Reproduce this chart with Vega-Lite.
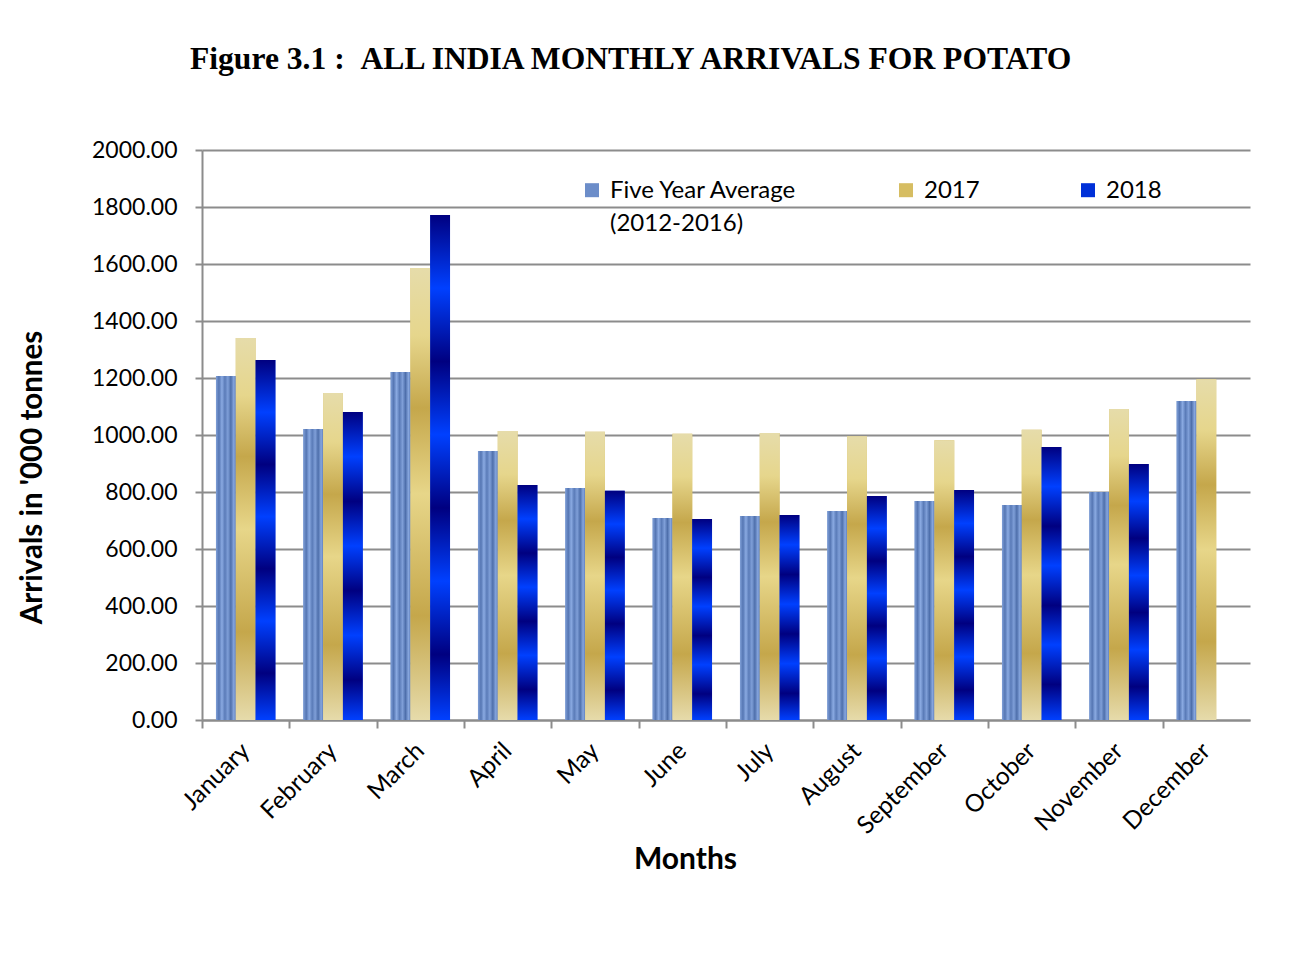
{
  "$schema": "https://vega.github.io/schema/vega-lite/v6.json",
  "width": 1048,
  "height": 570,
  "autosize": {"type": "none"},
  "padding": {"left": 202, "top": 150, "right": 53, "bottom": 235},
  "background": "white",
  "title": {
    "text": "Figure 3.1 :\u00a0\u00a0ALL INDIA MONTHLY ARRIVALS FOR POTATO",
    "font": "Liberation Serif",
    "fontSize": 31.6,
    "fontWeight": "bold",
    "color": "black",
    "anchor": "start",
    "frame": "group",
    "dx": -12,
    "offset": 63
  },
  "config": {
    "font": "Lato",
    "view": {"stroke": null},
    "style": {"guide-label": {"lineHeight": 33}},
    "axis": {"labelFont": "Lato", "titleFont": "Lato", "labelColor": "black", "titleColor": "black"}
  },
  "data": {
    "values": [
      {"month": "January", "series": "Five Year Average (2012-2016)", "value": 1207},
      {"month": "January", "series": "2017", "value": 1340},
      {"month": "January", "series": "2018", "value": 1263},
      {"month": "February", "series": "Five Year Average (2012-2016)", "value": 1021},
      {"month": "February", "series": "2017", "value": 1147},
      {"month": "February", "series": "2018", "value": 1081},
      {"month": "March", "series": "Five Year Average (2012-2016)", "value": 1221},
      {"month": "March", "series": "2017", "value": 1586},
      {"month": "March", "series": "2018", "value": 1772},
      {"month": "April", "series": "Five Year Average (2012-2016)", "value": 944},
      {"month": "April", "series": "2017", "value": 1014},
      {"month": "April", "series": "2018", "value": 825},
      {"month": "May", "series": "Five Year Average (2012-2016)", "value": 814},
      {"month": "May", "series": "2017", "value": 1011},
      {"month": "May", "series": "2018", "value": 804},
      {"month": "June", "series": "Five Year Average (2012-2016)", "value": 709},
      {"month": "June", "series": "2017", "value": 1004},
      {"month": "June", "series": "2018", "value": 705},
      {"month": "July", "series": "Five Year Average (2012-2016)", "value": 716},
      {"month": "July", "series": "2017", "value": 1007},
      {"month": "July", "series": "2018", "value": 719},
      {"month": "August", "series": "Five Year Average (2012-2016)", "value": 733},
      {"month": "August", "series": "2017", "value": 996},
      {"month": "August", "series": "2018", "value": 786},
      {"month": "September", "series": "Five Year Average (2012-2016)", "value": 768},
      {"month": "September", "series": "2017", "value": 982},
      {"month": "September", "series": "2018", "value": 807},
      {"month": "October", "series": "Five Year Average (2012-2016)", "value": 754},
      {"month": "October", "series": "2017", "value": 1018},
      {"month": "October", "series": "2018", "value": 958},
      {"month": "November", "series": "Five Year Average (2012-2016)", "value": 800},
      {"month": "November", "series": "2017", "value": 1091},
      {"month": "November", "series": "2018", "value": 898},
      {"month": "December", "series": "Five Year Average (2012-2016)", "value": 1119},
      {"month": "December", "series": "2017", "value": 1196}
    ]
  },
  "encoding": {
    "x": {
      "field": "month",
      "type": "nominal",
      "sort": ["January","February","March","April","May","June","July","August","September","October","November","December"],
      "scale": {"paddingInner": 0.32, "paddingOuter": 0.16},
      "axis": {
        "title": "Months",
        "titleFontSize": 30,
        "titleFontWeight": "bold",
        "titleX": 483,
        "titleY": 124,
        "labelFontSize": 24.5,
        "labelAngle": -45,
        "labelAlign": "right",
        "labelBaseline": "middle",
        "bandPosition": 0.5,
        "tickOffset": -43.67,
        "labelOffset": 43.67,
        "ticks": true,
        "tickSize": 8,
        "tickColor": "#8c8c8c",
        "tickWidth": 2,
        "domainColor": "#8c8c8c",
        "domainWidth": 2,
        "labelPadding": 19,
        "grid": false
      }
    },
    "xOffset": {
      "field": "series",
      "type": "nominal",
      "sort": ["Five Year Average (2012-2016)", "2017", "2018"],
      "scale": {"domain": ["Five Year Average (2012-2016)", "2017", "2018"], "paddingInner": 0, "paddingOuter": 0}
    },
    "y": {
      "field": "value",
      "type": "quantitative",
      "scale": {"domain": [0, 2000], "nice": false},
      "axis": {
        "title": "Arrivals in '000 tonnes",
        "titleFontSize": 29.5,
        "titleFontWeight": "bold",
        "titleY": 327,
        "titleX": -155,
        "values": [0,200,400,600,800,1000,1200,1400,1600,1800,2000],
        "format": ".2f",
        "labelFontSize": 23,
        "labelPadding": 18,
        "tickSize": 7,
        "tickColor": "#8c8c8c",
        "tickWidth": 2,
        "domainColor": "#8c8c8c",
        "domainWidth": 2,
        "gridColor": "#8c8c8c",
        "gridWidth": 2
      }
    }
  },
  "layer": [
    {
      "mark": {"type": "bar"},
      "encoding": {
        "color": {
          "field": "series",
          "type": "nominal",
          "scale": {"domain": ["Five Year Average (2012-2016)", "2017", "2018"], "range": ["#6c8dc9", "#d6bd62", "#0030d8"]},
          "legend": {
            "title": null,
            "orient": "none",
            "legendX": 378,
            "legendY": 17,
            "direction": "horizontal",
            "columnPadding": 96,
            "symbolType": "M-1,0.6H1V2.6H-1Z",
            "symbolSize": 196,
            "symbolStrokeWidth": 0,
            "labelFontSize": 24,
            "labelFont": "Lato",
            "labelColor": "black",
            "labelBaseline": "top",
            "labelOffset": 6,
            "labelLimit": 400,
            "labelExpr": "datum.label == 'Five Year Average (2012-2016)' ? ['Five Year Average', ' (2012-2016)'] : [datum.label, ' ']"
          }
        }
      }
    },
    {
      "transform": [{"filter": "datum.series == 'Five Year Average (2012-2016)'"}],
      "mark": {
        "type": "bar",
        "fill": {
          "gradient": "linear", "x1": 0, "y1": 0, "x2": 1, "y2": 0,
          "stops": [
            {"offset": 0, "color": "#80a0d8"},
            {"offset": 0.15, "color": "#5576b3"},
            {"offset": 0.3, "color": "#8aaae2"},
            {"offset": 0.45, "color": "#5a7bb8"},
            {"offset": 0.6, "color": "#7f9fd8"},
            {"offset": 0.75, "color": "#4e6fab"},
            {"offset": 0.9, "color": "#86a6de"},
            {"offset": 1, "color": "#6080bd"}
          ]
        }
      }
    },
    {
      "transform": [{"filter": "datum.series == '2017'"}],
      "mark": {
        "type": "bar",
        "fill": {
          "gradient": "linear", "x1": 0, "y1": 0, "x2": 0, "y2": 1,
          "stops": [
            {"offset": 0, "color": "#e6dcaa"},
            {"offset": 0.15, "color": "#e6d68c"},
            {"offset": 0.31, "color": "#c5a74b"},
            {"offset": 0.5, "color": "#e7d689"},
            {"offset": 0.77, "color": "#c5a74b"},
            {"offset": 1, "color": "#e6dbab"}
          ]
        }
      }
    },
    {
      "transform": [{"filter": "datum.series == '2018'"}],
      "mark": {
        "type": "bar",
        "fill": {
          "gradient": "linear", "x1": 0, "y1": 0, "x2": 0, "y2": 1,
          "stops": [
            {"offset": 0, "color": "#000080"},
            {"offset": 0.145, "color": "#0040ff"},
            {"offset": 0.29, "color": "#000080"},
            {"offset": 0.435, "color": "#0040ff"},
            {"offset": 0.58, "color": "#000080"},
            {"offset": 0.725, "color": "#0040ff"},
            {"offset": 0.87, "color": "#000080"},
            {"offset": 1, "color": "#0040ff"}
          ]
        }
      }
    }
  ]
}
